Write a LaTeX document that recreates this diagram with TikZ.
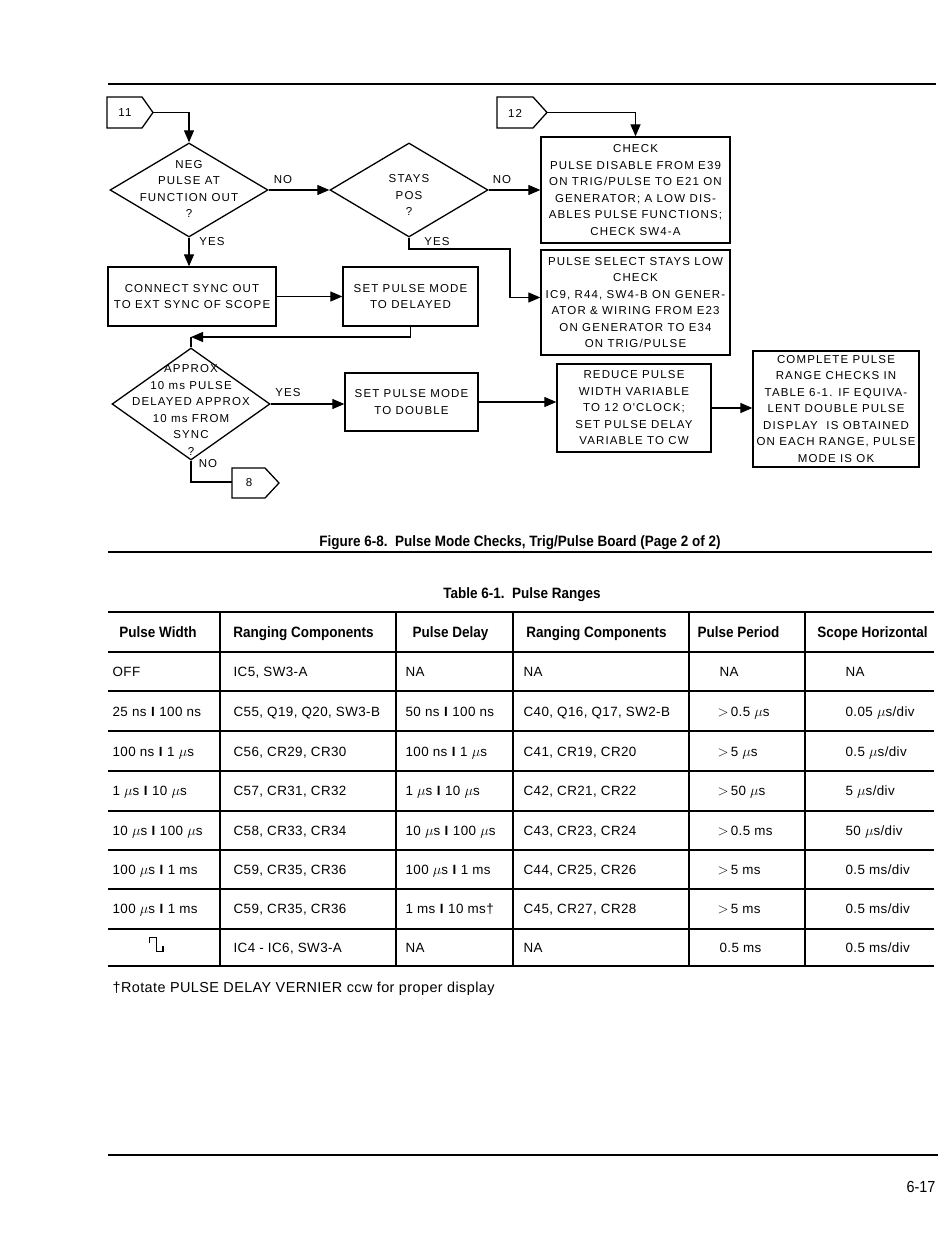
\documentclass[tikz,border=0pt]{standalone}
\usepackage{fontspec}
\setmainfont{Liberation Sans}
\newfontfamily\flowfont[LetterSpace=10]{Liberation Sans}
\newfontfamily\condfont[FakeStretch=0.9]{Liberation Sans}
\newfontfamily\tabfont[LetterSpace=3]{Liberation Sans}
\usetikzlibrary{shapes.geometric,arrows.meta,calc}
\newcommand\mus{$\mu$s}
\newcommand\bsep{\textbf{I}}
\newcommand\trow[8]{%
  \node[tcell] (r#1a) at (112,#2) {#3};
  \node[tcell] (r#1b) at (233,#2) {#4};
  \node[tcell] (r#1c) at (405,#2) {#5};
  \node[tcell] (r#1d) at (523,#2) {#6};
  \node[tcell] (r#1e) at (717,#2) {#7};
  \node[tcell] (r#1f) at (845,#2) {#8};
}
\begin{document}
\begin{tikzpicture}[x=1pt,y=-1pt,line width=1.2pt,
  fbox/.style={draw, line width=1.3pt, align=center, inner sep=0pt,
    font=\flowfont\fontsize{11.5}{16.5}\selectfont},
  dia/.style={draw, diamond, inner sep=0pt, line width=1.3pt},
  dtext/.style={align=center, inner sep=0pt,
    font=\flowfont\fontsize{11.5}{16.5}\selectfont},
  lbl/.style={inner sep=0pt, font=\flowfont\fontsize{11.5}{12}\selectfont},
  arr/.style={-{Triangle[length=12pt,width=10pt]}},
  hrule/.style={line width=1.3pt},
  tcell/.style={anchor=base west, inner sep=0pt,
    font=\tabfont\fontsize{13.4}{15}\selectfont},
  thead/.style={anchor=base, inner sep=0pt,
    font=\condfont\bfseries\fontsize{15}{17}\selectfont},
]
\useasboundingbox (0,0) rectangle (950,1246);
\fill[white] (0,0) rectangle (950,1246);

% page rules
\draw[hrule] (108,84) -- (936,84);
\draw[hrule] (108,552) -- (932,552);
\draw[hrule] (108,1155) -- (938,1155);

% ---------- flowchart ----------
% off-page connectors
\draw[line width=1.3pt] (107,97) -- (142,97) -- (153,112.5) -- (142,128) -- (107,128) -- cycle;
\node[lbl] (f11) at (125,113) {11};
\coordinate (f11tip) at (153,112.5);

\draw[line width=1.3pt] (497,97) -- (533,97) -- (547,112.5) -- (533,128) -- (497,128) -- cycle;
\node[lbl] (f12) at (515,113) {12};
\coordinate (f12tip) at (547,112.5);

\draw[line width=1.3pt] (232,468) -- (265,468) -- (279,483) -- (265,498) -- (232,498) -- cycle;
\node[lbl] (f8) at (249,483) {8};
\coordinate (f8in) at (232,482);

% decisions
\node[dia, minimum width=158, minimum height=94] (d1) at (189,190) {};
\node[dtext] (d1t) at (189,189) {NEG\\PULSE AT\\FUNCTION OUT\\?};
\node[dia, minimum width=158, minimum height=94] (d2) at (409,190) {};
\node[dtext] (d2t) at (409,195) {STAYS\\POS\\?};
\node[dia, minimum width=158, minimum height=112] (d3) at (191,404) {};
\node[dtext] (d3t) at (191,410) {APPROX\\10 ms PULSE\\DELAYED APPROX\\10 ms FROM\\SYNC\\?};

% process boxes
\node[fbox, minimum width=189, minimum height=106] (chk) at (635.5,190)
  {CHECK\\PULSE DISABLE FROM E39\\ON TRIG/PULSE TO E21 ON\\GENERATOR; A LOW DIS-\\ABLES PULSE FUNCTIONS;\\CHECK SW4-A};
\node[fbox, minimum width=189, minimum height=105] (sel) at (635.5,302.5)
  {PULSE SELECT STAYS LOW\\CHECK\\IC9, R44, SW4-B ON GENER-\\ATOR \& WIRING FROM E23\\ON GENERATOR TO E34\\ON TRIG/PULSE};
\node[fbox, minimum width=168, minimum height=59] (conn) at (192,296.5)
  {CONNECT SYNC OUT\\TO EXT SYNC OF SCOPE};
\node[fbox, minimum width=135, minimum height=59] (del) at (410.5,296.5)
  {SET PULSE MODE\\TO DELAYED};
\node[fbox, minimum width=133, minimum height=58] (dbl) at (411.5,402)
  {SET PULSE MODE\\TO DOUBLE};
\node[fbox, minimum width=154, minimum height=88] (red) at (634,408)
  {REDUCE PULSE\\WIDTH VARIABLE\\TO 12 O'CLOCK;\\SET PULSE DELAY\\VARIABLE TO CW};
\node[fbox, minimum width=166, minimum height=116] (cmp) at (836,409)
  {COMPLETE PULSE\\RANGE CHECKS IN\\TABLE 6-1. IF EQUIVA-\\LENT DOUBLE PULSE\\DISPLAY\ \ IS OBTAINED\\ON EACH RANGE, PULSE\\MODE IS OK};

% connectors
\draw[arr] (f11tip) -| (d1.north);
\draw[arr] (f12tip) -| (chk.north);
\draw[arr] (d1.east) -- (d2.west);
\draw[arr] (d2.east) -- (chk.west);
\coordinate (yc) at (510,249);
\draw[arr] (d2.south) |- (yc) |- ($(sel.west)+(0,-5)$);
\draw[arr] (d1.south) -- (d1.south |- conn.north);
\draw[arr] (conn.east) -- (del.west);
\coordinate (jn) at (191,337);
\draw[arr] (del.south) |- (jn);
\draw (jn) -- (d3.north);
\draw[arr] (d3.east) -- (dbl.west |- d3.east);
\draw[arr] (dbl.east) -- (dbl.east -| red.west);
\draw[arr] (red.east) -- (red.east -| cmp.west);
\draw (d3.south) |- (f8in);

% branch labels
\node[lbl] (n1) at (283,180) {NO};
\node[lbl] (n2) at (502,180) {NO};
\node[lbl] (y1) at (212,242) {YES};
\node[lbl] (y2) at (437,242) {YES};
\node[lbl] (y3) at (288,393) {YES};
\node[lbl] (n3) at (208,464) {NO};

% ---------- captions ----------
\node[thead] (cap) at (520,546) {Figure 6-8.\ \ Pulse Mode Checks, Trig/Pulse Board (Page 2 of 2)};
\node[thead] (ttl) at (522,598) {Table 6-1.\ \ Pulse Ranges};

% ---------- table ----------
\draw[hrule] (108,612) -- (934,612);
\foreach \yy in {652,691,731,771,811,850,889,929,966}
  \draw[hrule] (108,\yy) -- (934,\yy);
\foreach \xx in {220,396,513,689,805}
  \draw[line width=1.2pt] (\xx,612) -- (\xx,966);

\node[thead] (h1) at (158,637) {Pulse Width};
\node[thead] (h2) at (303.5,637) {Ranging Components};
\node[thead] (h3) at (450.5,637) {Pulse Delay};
\node[thead] (h4) at (596.5,637) {Ranging Components};
\node[thead] (h5) at (738.5,637) {Pulse Period};
\node[thead] (h6) at (872.5,637) {Scope Horizontal};

\trow{1}{676}{OFF}{IC5, SW3-A}{NA}{NA}{\hspace{2pt}NA}{NA}
\trow{2}{716}{25 ns \bsep{} 100 ns}{C55, Q19, Q20, SW3-B}{50 ns \bsep{} 100 ns}{C40, Q16, Q17, SW2-B}{$>$\,0.5 \mus}{0.05 \mus/div}
\trow{3}{756}{100 ns \bsep{} 1 \mus}{C56, CR29, CR30}{100 ns \bsep{} 1 \mus}{C41, CR19, CR20}{$>$\,5 \mus}{0.5 \mus/div}
\trow{4}{795}{1 \mus{} \bsep{} 10 \mus}{C57, CR31, CR32}{1 \mus{} \bsep{} 10 \mus}{C42, CR21, CR22}{$>$\,50 \mus}{5 \mus/div}
\trow{5}{835}{10 \mus{} \bsep{} 100 \mus}{C58, CR33, CR34}{10 \mus{} \bsep{} 100 \mus}{C43, CR23, CR24}{$>$\,0.5 ms}{50 \mus/div}
\trow{6}{874}{100 \mus{} \bsep{} 1 ms}{C59, CR35, CR36}{100 \mus{} \bsep{} 1 ms}{C44, CR25, CR26}{$>$\,5 ms}{0.5 ms/div}
\trow{7}{913}{100 \mus{} \bsep{} 1 ms}{C59, CR35, CR36}{1 ms \bsep{} 10 ms\textdagger}{C45, CR27, CR28}{$>$\,5 ms}{0.5 ms/div}
\trow{8}{952}{}{IC4 - IC6, SW3-A}{NA}{NA}{\hspace{2pt}0.5 ms}{0.5 ms/div}
% pulse symbol
\draw[line width=1.1pt] (149.3,943.3) -- (149.3,937.7) -- (156.3,937.7) -- (156.3,951.7) -- (163,951.7) -- (163,945.7);

\node[tcell, font=\tabfont\fontsize{14.4}{16}\selectfont] (fn) at (112,992) {\textdagger Rotate PULSE DELAY VERNIER ccw for proper display};
\node[thead, anchor=base east, font=\condfont\fontsize{16}{18}\selectfont] (pg) at (936,1192) {6-17};
\end{tikzpicture}
\end{document}
